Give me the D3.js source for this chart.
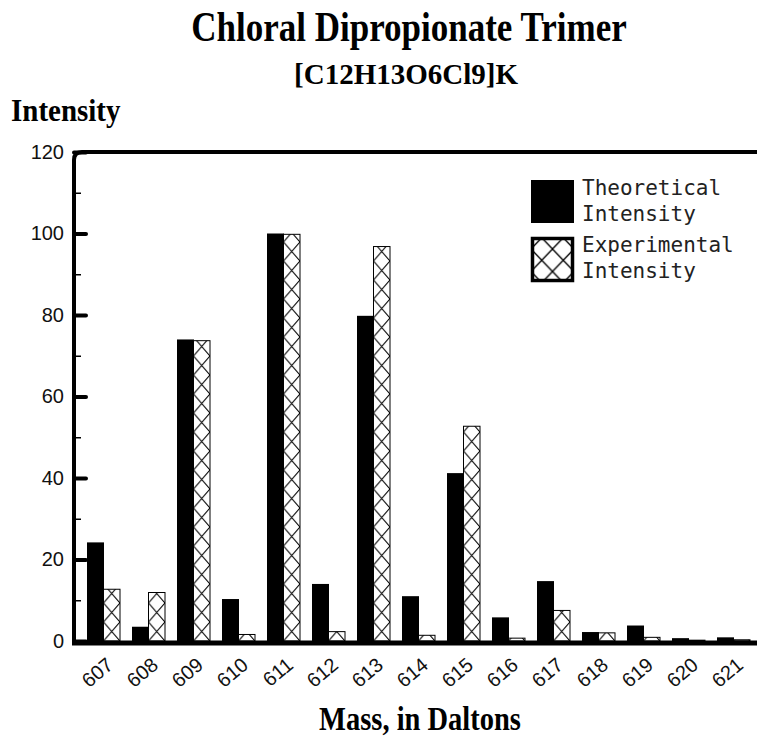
<!DOCTYPE html>
<html>
<head>
<meta charset="utf-8">
<script src="https://cdn.jsdelivr.net/npm/d3@7"></script>
<style>
  body { margin: 0; background: #fff; }
  svg { display: block; }
</style>
</head>
<body>
<div id="chart"></div>
<script>
'use strict';

// masses (Daltons) and the two intensity series
const masses = ['607', '608', '609', '610', '611', '612', '613', '614', '615', '616', '617', '618', '619', '620', '621'];
const theoretical = [24.2, 3.5, 74.0, 10.3, 100, 14.0, 79.8, 11.0, 41.2, 5.8, 14.7, 2.2, 3.8, 0.7, 0.9];
const experimental = [12.7, 11.9, 73.7, 1.6, 99.8, 2.3, 96.8, 1.4, 52.7, 0.7, 7.5, 2.0, 0.9, 0.2, 0.3];
const majorTicks = [0, 20, 40, 60, 80, 100, 120];
const minorTicks = [10, 30, 50, 70, 90, 110];
const legendLabels = [['Theoretical', 'Intensity'], ['Experimental', 'Intensity']];

((d3) => {
    const width = 757;
    const height = 740;
    const left = 74, top = 152, base = 641;

    const svg = d3.select('#chart')
        .append('svg')
        .attr('width', width)
        .attr('height', height);

    const x = d3.scaleBand()
        .domain(masses)
        .range([left, left + 45 * (masses.length - 12 / 45 + 2 * 13 / 45)])
        .paddingInner(12 / 45)
        .paddingOuter(13 / 45);
    const half = x.bandwidth() / 2;

    const y = d3.scaleLinear()
        .domain([0, 120])
        .range([base, top]);

    const serif = '"Liberation Serif", "Times New Roman", serif';
    const sans = '"Liberation Sans", Arial, sans-serif';

    //titles
    svg.append('text')
        .attr('transform', 'translate(409,41) scale(1,1.18)')
        .attr('text-anchor', 'middle')
        .style('font-family', serif).style('font-weight', 'bold').style('font-size', '35px')
        .text('Chloral Dipropionate Trimer');

    svg.append('text')
        .attr('x', 406).attr('y', 84)
        .attr('text-anchor', 'middle')
        .style('font-family', serif).style('font-weight', 'bold').style('font-size', '29px')
        .text('[C12H13O6Cl9]K');

    svg.append('text')
        .attr('transform', 'translate(11,121) scale(1,1.12)')
        .style('font-family', serif).style('font-weight', 'bold').style('font-size', '29px')
        .text('Intensity');

    svg.append('text')
        .attr('transform', 'translate(420,730) scale(1,1.15)')
        .attr('text-anchor', 'middle')
        .style('font-family', serif).style('font-weight', 'bold').style('font-size', '28.5px')
        .text('Mass, in Daltons');

    //one hatch pattern per experimental bar so the crosses line up with it
    const defs = svg.append('defs');
    const pat = defs.selectAll('pattern')
        .data(masses)
        .enter()
        .append('pattern')
        .attr('id', (d, i) => 'hatch' + i)
        .attr('patternUnits', 'userSpaceOnUse')
        .attr('x', (d) => x(d) + half)
        .attr('y', base)
        .attr('width', half)
        .attr('height', 19);
    pat.append('rect').attr('width', half).attr('height', 19).attr('fill', '#fff');
    pat.append('path')
        .attr('d', 'M0,0L' + half + ',19M' + half + ',0L0,19')
        .attr('stroke', '#000')
        .attr('stroke-width', 1.1)
        .attr('fill', 'none');

    //theoretical bars
    svg.append('g').selectAll('rect')
        .data(theoretical)
        .enter()
        .append('rect')
        .attr('x', (d, i) => x(masses[i]))
        .attr('y', (d) => y(d))
        .attr('width', half + 0.5)
        .attr('height', (d) => base - y(d))
        .attr('fill', '#000');

    //experimental bars
    svg.append('g').selectAll('rect')
        .data(experimental)
        .enter()
        .append('rect')
        .attr('x', (d, i) => x(masses[i]) + half)
        .attr('y', (d) => y(d))
        .attr('width', half)
        .attr('height', (d) => base - y(d))
        .attr('fill', (d, i) => 'url(#hatch' + i + ')')
        .attr('stroke', '#000')
        .attr('stroke-width', 1);

    //y axis: heavy major ticks, light minor ticks, drawn inside the frame
    const yMajor = svg.append('g')
        .attr('transform', 'translate(' + left + ',0)')
        .call(d3.axisLeft(y).tickValues(majorTicks).tickSize(-12).tickPadding(10));
    yMajor.select('.domain').remove();
    yMajor.selectAll('line').attr('stroke-width', 4).attr('stroke-linecap', 'round');
    yMajor.selectAll('text')
        .style('font-family', sans)
        .style('font-size', '20px')
        .attr('fill', '#111');

    const yMinor = svg.append('g')
        .attr('transform', 'translate(' + left + ',0)')
        .call(d3.axisLeft(y).tickValues(minorTicks).tickSize(-7).tickFormat(''));
    yMinor.select('.domain').remove();
    yMinor.selectAll('line').attr('stroke-width', 1.5);

    //frame: top and left lines with a rounded corner, heavy bottom line
    svg.append('path')
        .attr('d', 'M' + (width + 5) + ',' + top + 'H' + (left + 8) + 'Q' + left + ',' + top + ' ' + left + ',' + (top + 8) + 'V' + (base + 3))
        .attr('fill', 'none')
        .attr('stroke', '#000')
        .attr('stroke-width', 4);
    svg.append('line')
        .attr('x1', left - 2).attr('x2', width + 5)
        .attr('y1', base + 2).attr('y2', base + 2)
        .attr('stroke', '#000')
        .attr('stroke-width', 5);

    //x axis labels, rotated
    const xAxis = svg.append('g')
        .attr('transform', 'translate(0,' + (base + 4) + ')')
        .call(d3.axisBottom(x).tickSize(0).tickPadding(0));
    xAxis.select('.domain').remove();
    xAxis.selectAll('text')
        .attr('text-anchor', 'end')
        .attr('dy', null)
        .attr('transform', 'translate(11,22) rotate(-40)')
        .style('font-family', sans)
        .style('font-size', '20px')
        .attr('fill', '#111');

    //legend
    const legendPat = defs.append('pattern')
        .attr('id', 'legendHatch')
        .attr('patternUnits', 'userSpaceOnUse')
        .attr('x', 531).attr('y', 237)
        .attr('width', 21.5).attr('height', 22.5);
    legendPat.append('path')
        .attr('d', 'M0,0L21.5,22.5M21.5,0L0,22.5')
        .attr('stroke', '#000').attr('stroke-width', 1.4).attr('fill', 'none');

    const legend = svg.selectAll('.legend')
        .data(legendLabels)
        .enter()
        .append('g')
        .attr('class', 'legend')
        .attr('transform', (d, i) => 'translate(0,' + (i * 57) + ')');

    legend.append('rect')
        .attr('x', (d, i) => i ? 532.5 : 531)
        .attr('y', (d, i) => i ? 181.5 : 180)
        .attr('width', (d, i) => i ? 40 : 43)
        .attr('height', (d, i) => i ? 42 : 43)
        .attr('fill', (d, i) => i ? 'url(#legendHatch)' : '#000')
        .attr('stroke', (d, i) => i ? '#000' : 'none')
        .attr('stroke-width', 3.5);

    legend.selectAll('text')
        .data((d) => d)
        .enter()
        .append('text')
        .attr('x', 582)
        .attr('y', (d, j) => 195 + j * 26)
        .style('font-family', '"DejaVu Sans Mono", monospace')
        .style('font-size', '21px')
        .attr('fill', '#222')
        .text((d) => d);

})(window.d3);
</script>
</body>
</html>
